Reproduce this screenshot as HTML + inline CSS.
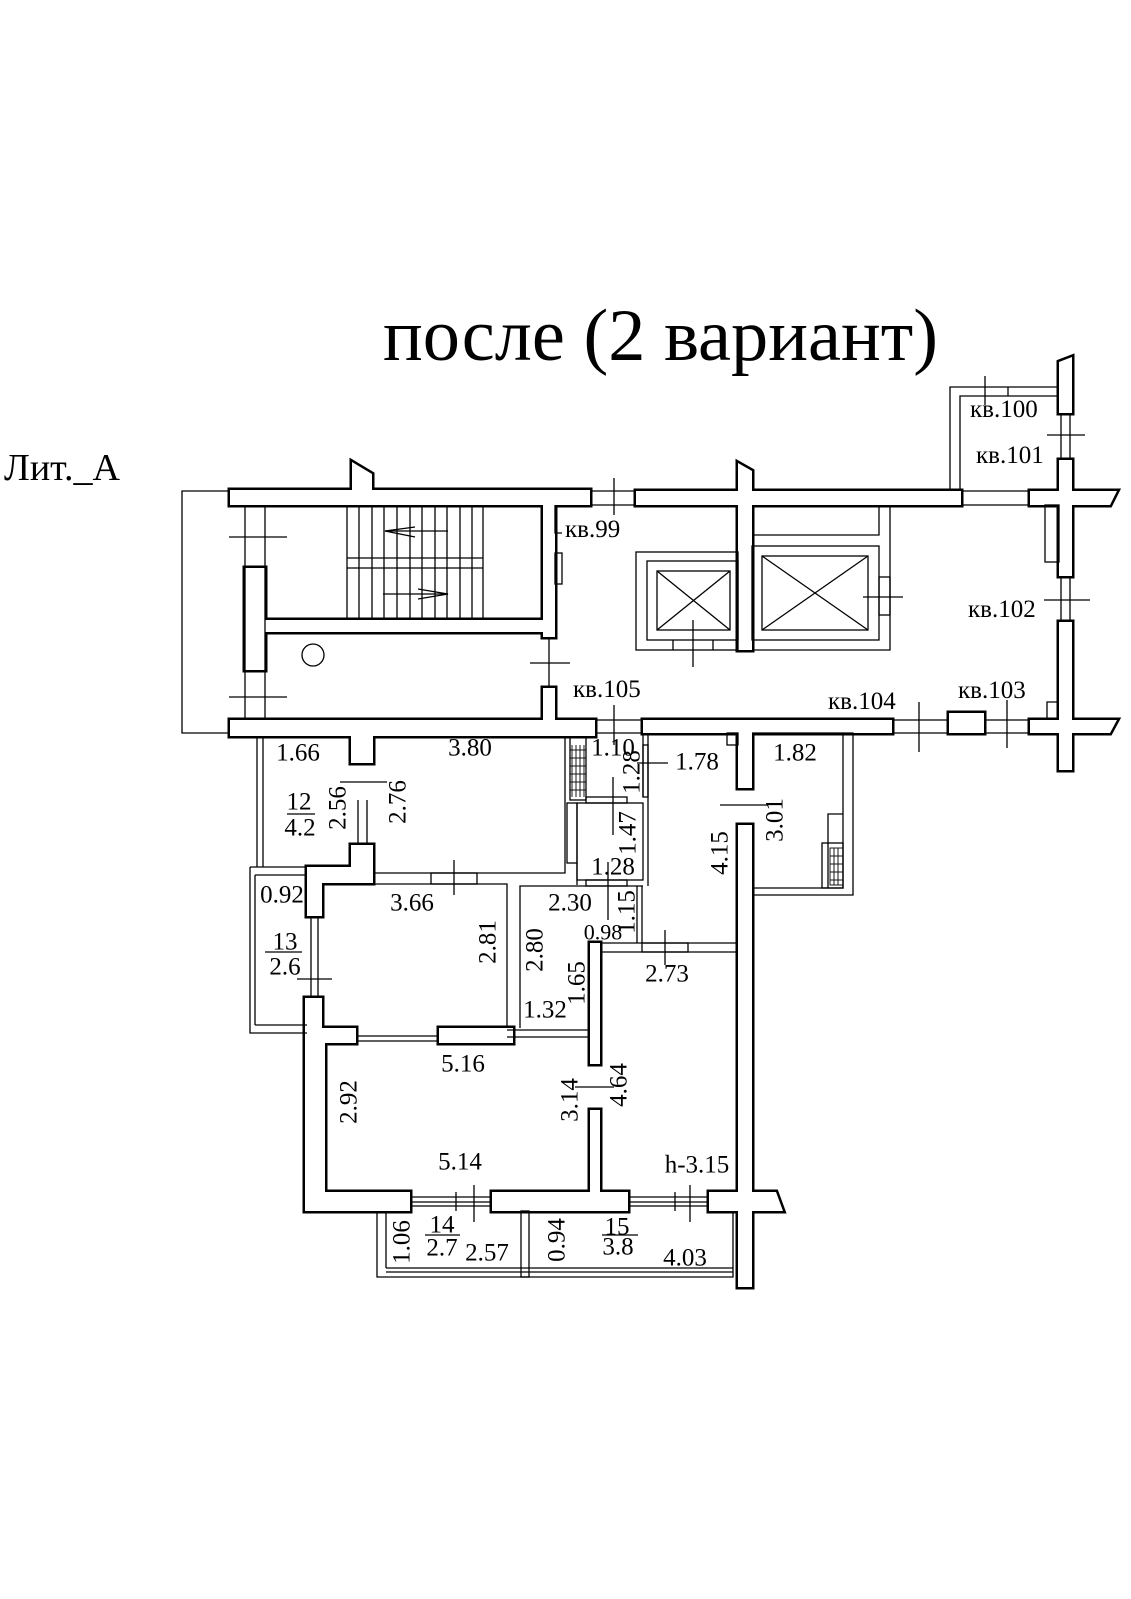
<!DOCTYPE html>
<html><head><meta charset="utf-8"><style>
html,body{margin:0;padding:0;background:#fff;}
svg{display:block;}
text{font-family:"Liberation Serif",serif;fill:#000;}
</style></head><body>
<svg width="1131" height="1599" viewBox="0 0 1131 1599" xmlns="http://www.w3.org/2000/svg">
<rect width="1131" height="1599" fill="#fff"/>
<defs>
<g id="walls">
<rect x="230" y="490" width="360" height="15"/>
<polygon points="352,505 352,462 372,474 372,505"/>
<rect x="636" y="491" width="325" height="14"/>
<polygon points="738,650 738,463 752,471 752,650"/>
<polygon points="1030,491 1117,491 1110,505 1030,505"/>
<polygon points="1059,413 1059,362 1072,357 1072,413"/>
<rect x="1059" y="460" width="13" height="116"/>
<rect x="1059" y="622" width="13" height="148"/>
<rect x="245" y="568" width="20" height="102"/>
<rect x="265" y="620" width="280" height="12"/>
<rect x="543" y="505" width="12" height="132"/>
<rect x="543" y="688" width="12" height="35"/>
<rect x="230" y="720" width="365" height="16"/>
<rect x="643" y="720" width="249" height="13"/>
<rect x="949" y="713" width="35" height="20"/>
<polygon points="1030,720 1117,720 1110,733 1030,733"/>
<rect x="351" y="735" width="22" height="28"/>
<polygon points="351,845 373,845 373,883 322,883 322,916 307,916 307,867 351,867"/>
<polygon points="307,998 322,998 322,1028 356,1028 356,1043 325,1043 325,1192 410,1192 410,1211 305,1211 305,998"/>
<rect x="492" y="1192" width="136" height="19"/>
<polygon points="709,1192 738,1192 738,825 752,825 752,1192 776,1192 783,1211 752,1211 752,1287 738,1287 738,1211 709,1211"/>
<rect x="738" y="733" width="14" height="55"/>
<rect x="590" y="943" width="10" height="121"/>
<rect x="590" y="1110" width="10" height="82"/>
<rect x="439" y="1028" width="74" height="15"/>
</g>
</defs>
<use href="#walls" fill="#000" stroke="#000" stroke-width="5" stroke-linejoin="miter"/>
<use href="#walls" fill="#fff" stroke="none"/>

<g fill="none" stroke="#000" stroke-width="1.3">
<polyline points="230,491 182,491 182,733 230,733"/>
<line x1="245" y1="505" x2="245" y2="720"/><line x1="265" y1="505" x2="265" y2="720"/>
<line x1="229" y1="537" x2="287" y2="537"/><line x1="229" y1="697" x2="287" y2="697"/>
<line x1="347" y1="558" x2="483" y2="558"/><line x1="347" y1="568" x2="483" y2="568"/>
<line x1="347" y1="505" x2="347" y2="620"/><line x1="359" y1="505" x2="359" y2="620"/><line x1="372" y1="505" x2="372" y2="620"/><line x1="384" y1="505" x2="384" y2="620"/><line x1="397" y1="505" x2="397" y2="620"/><line x1="410" y1="505" x2="410" y2="620"/><line x1="422" y1="505" x2="422" y2="620"/><line x1="435" y1="505" x2="435" y2="620"/><line x1="447" y1="505" x2="447" y2="620"/><line x1="460" y1="505" x2="460" y2="620"/><line x1="472" y1="505" x2="472" y2="620"/><line x1="483" y1="505" x2="483" y2="620"/>
<line x1="385" y1="531" x2="448" y2="531"/><polyline points="415,527 385,531 415,537"/>
<line x1="383" y1="594" x2="448" y2="594"/><polyline points="418,589 448,594 418,599"/>
<circle cx="313" cy="655" r="11"/>
<polyline points="555,505 555,533 562,533"/><rect x="555" y="553" width="7" height="31"/>
<line x1="549" y1="637" x2="549" y2="688"/><line x1="530" y1="663" x2="570" y2="663"/>
<line x1="590" y1="491" x2="636" y2="491"/><line x1="590" y1="505" x2="636" y2="505"/>
<line x1="614" y1="478" x2="614" y2="515"/>
<line x1="595" y1="720" x2="643" y2="720"/><line x1="595" y1="733" x2="643" y2="733"/>
<line x1="614" y1="705" x2="614" y2="745"/>
<rect x="636" y="552" width="102" height="98"/><rect x="647" y="561" width="91" height="79"/>
<rect x="657" y="571" width="73" height="59"/><line x1="657" y1="571" x2="730" y2="630"/><line x1="730" y1="571" x2="657" y2="630"/>
<line x1="673" y1="640" x2="673" y2="650"/><line x1="713" y1="640" x2="713" y2="650"/>
<line x1="693" y1="620" x2="693" y2="667"/>
<polyline points="752,650 890,650 890,505"/><polyline points="752,535 879,535 879,505"/>
<rect x="752" y="546" width="127" height="94"/><rect x="762" y="556" width="106" height="74"/>
<line x1="762" y1="556" x2="868" y2="630"/><line x1="868" y1="556" x2="762" y2="630"/>
<rect x="879" y="577" width="11" height="38"/><line x1="863" y1="597" x2="903" y2="597"/>
<polyline points="950,491 950,387 1059,387"/><polyline points="960,491 960,396 1059,396"/>
<line x1="1008" y1="387" x2="1008" y2="396"/><line x1="985" y1="376" x2="985" y2="405"/>
<line x1="1061" y1="413" x2="1061" y2="460"/><line x1="1070" y1="413" x2="1070" y2="460"/><line x1="1047" y1="435" x2="1085" y2="435"/>
<line x1="961" y1="491" x2="1030" y2="491"/><line x1="961" y1="505" x2="1030" y2="505"/>
<rect x="1045" y="505" width="14" height="57"/>
<line x1="1061" y1="576" x2="1061" y2="622"/><line x1="1070" y1="576" x2="1070" y2="622"/><line x1="1044" y1="600" x2="1090" y2="600"/>
<line x1="892" y1="720" x2="949" y2="720"/><line x1="892" y1="733" x2="949" y2="733"/><line x1="984" y1="720" x2="1030" y2="720"/><line x1="984" y1="733" x2="1030" y2="733"/>
<line x1="919" y1="702" x2="919" y2="752"/><line x1="1007" y1="700" x2="1007" y2="748"/>
<polyline points="1047,720 1047,702 1059,702"/>
<line x1="257" y1="736" x2="257" y2="867"/><line x1="263" y1="736" x2="263" y2="867"/>
<polyline points="250,867 250,1033 307,1033"/><line x1="255" y1="875" x2="255" y2="1025"/>
<line x1="250" y1="867" x2="307" y2="867"/><line x1="255" y1="875" x2="307" y2="875"/><line x1="255" y1="1025" x2="307" y2="1025"/>
<line x1="358" y1="800" x2="358" y2="845"/><line x1="367" y1="800" x2="367" y2="845"/><line x1="340" y1="782" x2="387" y2="782"/>
<line x1="311" y1="916" x2="311" y2="998"/><line x1="318" y1="916" x2="318" y2="998"/><line x1="297" y1="979" x2="332" y2="979"/>
<polyline points="373,873 565,873 565,737"/>
<rect x="431" y="873" width="46" height="11"/><line x1="454" y1="860" x2="454" y2="895"/>
<polyline points="373,884 507,884 507,1027"/>
<rect x="570" y="737" width="16" height="63"/>
<rect x="567" y="803" width="10" height="60"/><line x1="577" y1="863" x2="577" y2="885"/>
<polyline points="520,1028 520,886 643,886"/>
<line x1="507" y1="1030" x2="590" y2="1030"/><line x1="507" y1="1037" x2="590" y2="1037"/>
<line x1="356" y1="1036" x2="439" y2="1036"/><line x1="356" y1="1041" x2="439" y2="1041"/>
<rect x="577" y="803" width="66" height="77"/>
<rect x="586" y="797" width="41" height="6"/><rect x="586" y="880" width="41" height="6"/>
<line x1="643" y1="733" x2="643" y2="797"/><rect x="643" y="745" width="5" height="52"/>
<line x1="613" y1="777" x2="613" y2="835"/><line x1="608" y1="862" x2="608" y2="920"/>
<line x1="637" y1="763" x2="668" y2="763"/>
<line x1="648" y1="733" x2="648" y2="886"/>
<line x1="637" y1="886" x2="637" y2="943"/><line x1="642" y1="886" x2="642" y2="943"/>
<rect x="727" y="733" width="11" height="12"/>
<line x1="600" y1="943" x2="738" y2="943"/><line x1="600" y1="952" x2="738" y2="952"/>
<rect x="642" y="943" width="46" height="9"/><line x1="665" y1="930" x2="665" y2="965"/>
<line x1="720" y1="805" x2="767" y2="805"/>
<line x1="575" y1="1087" x2="614" y2="1087"/>
<polyline points="752,733 853,733 853,895 752,895"/><polyline points="843,733 843,888 752,888"/>
<polyline points="828,888 828,814 843,814"/><rect x="822" y="843" width="21" height="45"/>
<line x1="410" y1="1197" x2="492" y2="1197"/><line x1="410" y1="1202" x2="492" y2="1202"/><line x1="410" y1="1206" x2="492" y2="1206"/><line x1="456" y1="1192" x2="456" y2="1211"/><line x1="474" y1="1185" x2="474" y2="1222"/>
<line x1="628" y1="1197" x2="709" y2="1197"/><line x1="628" y1="1202" x2="709" y2="1202"/><line x1="628" y1="1206" x2="709" y2="1206"/><line x1="675" y1="1192" x2="675" y2="1211"/><line x1="690" y1="1185" x2="690" y2="1222"/>
<polyline points="377,1211 377,1277 733,1277 733,1211"/>
<line x1="386" y1="1211" x2="386" y2="1268"/><line x1="386" y1="1268" x2="733" y2="1268"/><line x1="386" y1="1272" x2="733" y2="1272"/>
<rect x="521" y="1211" width="8" height="66"/>
</g>
<g fill="none" stroke="#000" stroke-width="0.9">
<line x1="572" y1="745" x2="572" y2="797"/><line x1="576" y1="745" x2="576" y2="797"/><line x1="580" y1="745" x2="580" y2="797"/><line x1="584" y1="745" x2="584" y2="797"/>
<line x1="570" y1="750" x2="586" y2="750"/><line x1="570" y1="758" x2="586" y2="758"/><line x1="570" y1="766" x2="586" y2="766"/><line x1="570" y1="774" x2="586" y2="774"/><line x1="570" y1="782" x2="586" y2="782"/><line x1="570" y1="790" x2="586" y2="790"/>
<rect x="830" y="848" width="13" height="37"/>
<line x1="834" y1="848" x2="834" y2="885"/><line x1="838" y1="848" x2="838" y2="885"/>
<line x1="830" y1="856" x2="843" y2="856"/><line x1="830" y1="864" x2="843" y2="864"/><line x1="830" y1="872" x2="843" y2="872"/><line x1="830" y1="880" x2="843" y2="880"/>
</g>

<text x="383" y="360" font-size="74" textLength="555" lengthAdjust="spacingAndGlyphs">после (2 вариант)</text>
<text x="4" y="480" font-size="38" textLength="116" lengthAdjust="spacingAndGlyphs">Лит._А</text>

<g font-size="25">
<text x="565" y="537">кв.99</text>
<text x="970" y="417">кв.100</text>
<text x="976" y="463">кв.101</text>
<text x="968" y="617">кв.102</text>
<text x="958" y="698">кв.103</text>
<text x="828" y="709">кв.104</text>
<text x="573" y="697">кв.105</text>
</g>

<g font-size="25" text-anchor="middle" dominant-baseline="central">
<text x="298" y="753">1.66</text>
<text x="470" y="748">3.80</text>
<text x="299" y="802">12</text>
<text x="300" y="828">4.2</text>
<text x="282" y="895">0.92</text>
<text x="412" y="903">3.66</text>
<text x="285" y="942">13</text>
<text x="285" y="967">2.6</text>
<text x="570" y="903">2.30</text>
<text x="603" y="932" font-size="22">0.98</text>
<text x="545" y="1010">1.32</text>
<text x="667" y="974">2.73</text>
<text x="463" y="1064">5.16</text>
<text x="460" y="1162">5.14</text>
<text x="697" y="1165">h-3.15</text>
<text x="442" y="1225">14</text>
<text x="442" y="1248">2.7</text>
<text x="487" y="1253">2.57</text>
<text x="617" y="1227">15</text>
<text x="618" y="1247">3.8</text>
<text x="685" y="1258">4.03</text>
<text x="613" y="748">1.10</text>
<text x="697" y="762">1.78</text>
<text x="795" y="753">1.82</text>
<text x="613" y="867">1.28</text>
<text transform="translate(338,808) rotate(-90)">2.56</text>
<text transform="translate(398,802) rotate(-90)">2.76</text>
<text transform="translate(488,942) rotate(-90)">2.81</text>
<text transform="translate(535,950) rotate(-90)">2.80</text>
<text transform="translate(577,983) rotate(-90)">1.65</text>
<text transform="translate(627,912) rotate(-90)">1.15</text>
<text transform="translate(632,772) rotate(-90)">1.28</text>
<text transform="translate(628,833) rotate(-90)">1.47</text>
<text transform="translate(720,853) rotate(-90)">4.15</text>
<text transform="translate(775,820) rotate(-90)">3.01</text>
<text transform="translate(349,1102) rotate(-90)">2.92</text>
<text transform="translate(570,1100) rotate(-90)">3.14</text>
<text transform="translate(619,1085) rotate(-90)">4.64</text>
<text transform="translate(402,1242) rotate(-90)">1.06</text>
<text transform="translate(557,1240) rotate(-90)">0.94</text>
</g>
<g stroke="#000" stroke-width="1.3">
<line x1="287" y1="814" x2="315" y2="814"/>
<line x1="265" y1="952" x2="302" y2="952"/>
<line x1="425" y1="1235" x2="460" y2="1235"/>
<line x1="602" y1="1235" x2="638" y2="1235"/>
</g>
</svg>
</body></html>
